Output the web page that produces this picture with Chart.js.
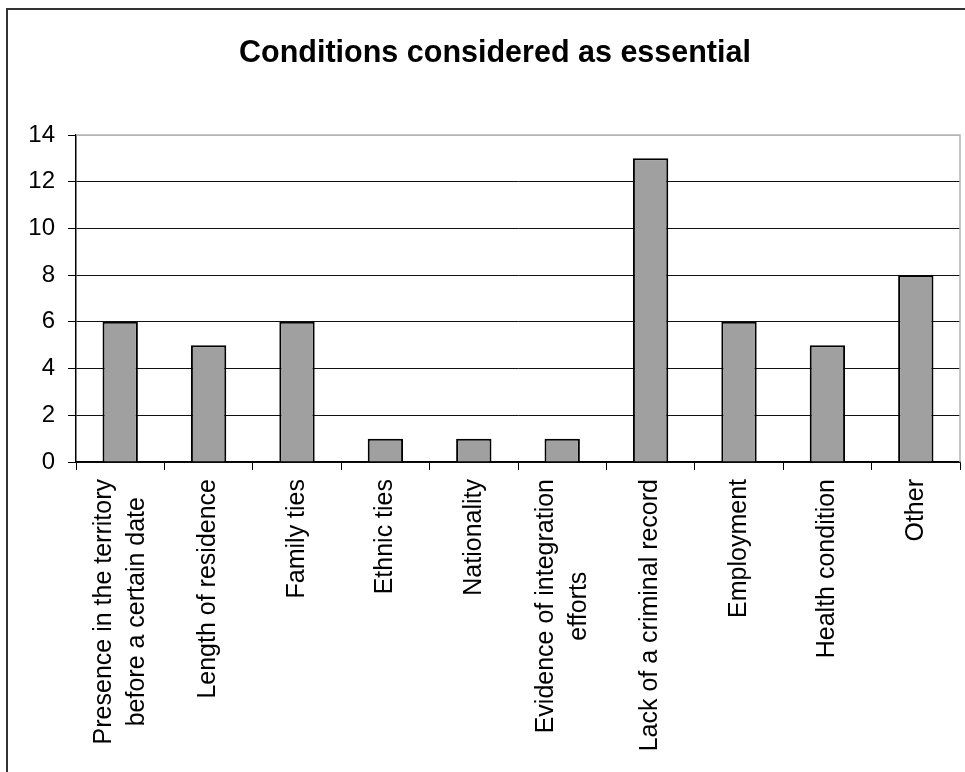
<!DOCTYPE html>
<html>
<head>
<meta charset="utf-8">
<script src="https://cdn.jsdelivr.net/npm/chart.js@4.4.1/dist/chart.umd.min.js"></script>
<style>
    html, body { margin: 0; padding: 0; background: #fff; }
    .chart-box { position: relative; width: 965px; height: 772px; }
</style>
</head>
<body>
<div class="chart-box">
    <canvas id="chart" width="965" height="772"></canvas>
</div>
<script>
const chartTitle = 'Conditions considered as essential';
const categories = [
    ['Presence in the territory', 'before a certain date'],
    ['Length of residence'],
    ['Family ties'],
    ['Ethnic ties'],
    ['Nationality'],
    ['Evidence of integration', 'efforts'],
    ['Lack of a criminal record'],
    ['Employment'],
    ['Health condition'],
    ['Other']
];
const counts = [6, 5, 6, 1, 1, 1, 13, 6, 5, 8];
const yTicks = [0, 2, 4, 6, 8, 10, 12, 14];

const fontFamily = '"Liberation Sans", Arial, sans-serif';

// frame, title, gray plot border and centred rotated category labels
const decorPlugin = {
    id: 'decor',
    beforeDraw(chart) {
        const ctx = chart.ctx;
        ctx.save();
        ctx.strokeStyle = '#333';
        ctx.lineWidth = 2;
        ctx.strokeRect(7, 9, 2000, 2000);
        ctx.fillStyle = '#000';
        ctx.font = `bold 30.5px ${fontFamily}`;
        ctx.textAlign = 'center';
        ctx.textBaseline = 'alphabetic';
        ctx.fillText(chartTitle, 495, 62);
        ctx.restore();
    },
    afterDraw(chart) {
        const ctx = chart.ctx;
        const area = chart.chartArea;
        const xScale = chart.scales.x;
        ctx.save();
        ctx.strokeStyle = '#b4b4b4';
        ctx.lineWidth = 1.5;
        ctx.beginPath();
        ctx.moveTo(area.left, area.top);
        ctx.lineTo(area.right, area.top);
        ctx.lineTo(area.right, area.bottom);
        ctx.stroke();

        ctx.fillStyle = '#000';
        ctx.font = `25px ${fontFamily}`;
        ctx.textAlign = 'center';
        ctx.textBaseline = 'middle';
        const lineHeight = 33;
        categories.forEach((lines, i) => {
            const x = xScale.getPixelForTick(i);
            const maxW = Math.max(...lines.map(l => ctx.measureText(l).width));
            ctx.save();
            ctx.translate(x, area.bottom);
            ctx.rotate(-Math.PI / 2);
            lines.forEach((line, j) => {
                ctx.fillText(line, -(17 + maxW / 2), (j - (lines.length - 1) / 2) * lineHeight);
            });
            ctx.restore();
        });
        ctx.restore();
    }
};

new Chart(document.getElementById('chart'), {
    type: 'bar',
    data: {
        labels: categories,
        datasets: [{
            data: counts,
            backgroundColor: '#a0a0a0',
            borderColor: '#000',
            borderWidth: 2,
            barPercentage: 0.4,
            categoryPercentage: 1
        }]
    },
    options: {
        responsive: false,
        animation: false,
        devicePixelRatio: 1,
        layout: {
            padding: { left: 0, right: 5, top: 135, bottom: 0 }
        },
        scales: {
            x: {
                ticks: { display: false },
                grid: {
                    offset: true,
                    drawOnChartArea: false,
                    drawTicks: true,
                    tickLength: 8,
                    color: '#000',
                    lineWidth: 1
                },
                border: { display: true, color: '#000', width: 1.5 },
                afterFit(scale) {
                    scale.height = 310;
                }
            },
            y: {
                min: 0,
                max: 14,
                afterBuildTicks(scale) {
                    scale.ticks = yTicks.map(v => ({ value: v }));
                },
                ticks: {
                    color: '#000',
                    padding: 13,
                    font: { family: fontFamily, size: 24 }
                },
                grid: {
                    color: ctx => (ctx.tick && ctx.tick.value === 14 ? '#b4b4b4' : '#111'),
                    tickColor: '#000',
                    lineWidth: 1,
                    tickLength: 8
                },
                border: { display: true, color: '#000', width: 1.5 },
                afterFit(scale) {
                    scale.width = 76;
                }
            }
        },
        plugins: {
            legend: { display: false },
            title: { display: false },
            tooltip: { enabled: false }
        }
    },
    plugins: [decorPlugin]
});
</script>
</body>
</html>
